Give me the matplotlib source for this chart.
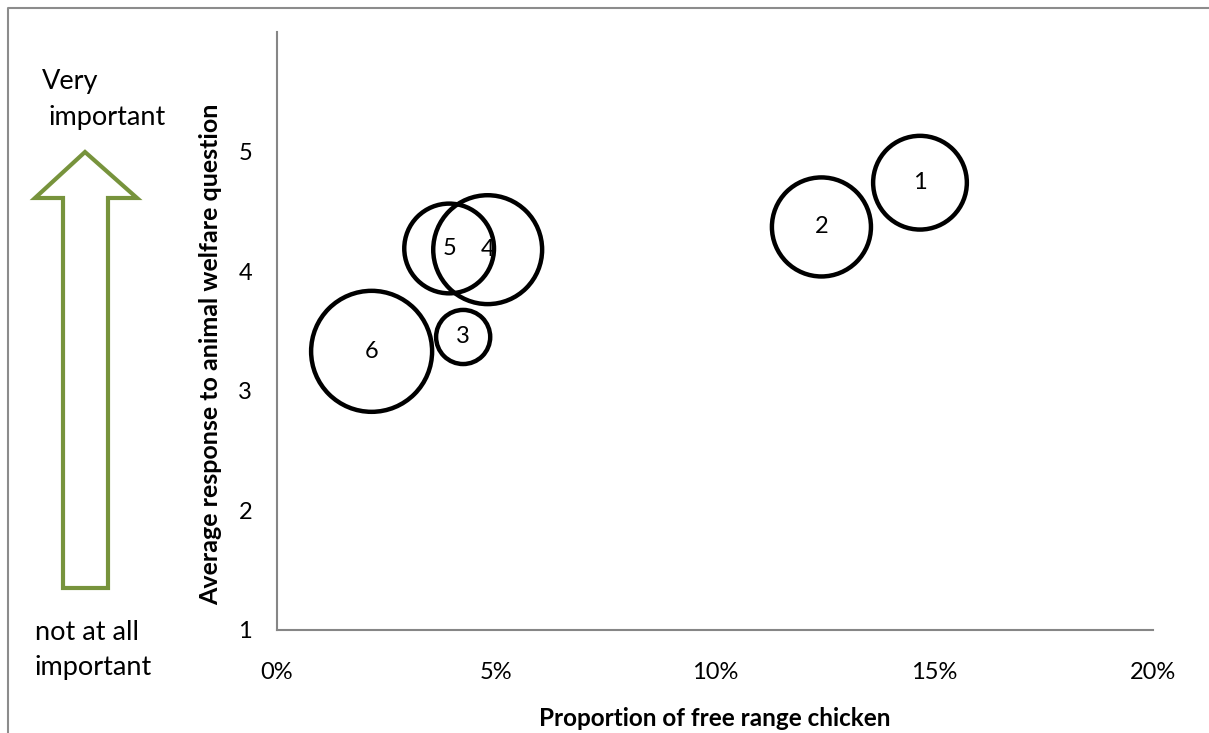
import numpy as np
import matplotlib
matplotlib.use("Agg")
import matplotlib.pyplot as plt
from matplotlib.patches import Polygon
from matplotlib.lines import Line2D
from matplotlib.ticker import FuncFormatter

plt.rcParams['font.family'] = ['Lato', 'DejaVu Sans']

# survey groups: share of free range chicken vs. stated welfare importance
group_labels = ["1", "2", "3", "4", "5", "6"]
free_range_pct = [14.68, 12.43, 4.25, 4.81, 3.93, 2.16]
welfare_score = [4.74, 4.37, 3.45, 4.18, 4.19, 3.33]
bubble_area = [0.60, 0.67, 0.20, 0.81, 0.55, 1.00]

x_ticks = [0, 5, 10, 15, 20]
y_ticks = [1, 2, 3, 4, 5]

W, H = 1209, 733
fig = plt.figure(figsize=(W / 100, H / 100), dpi=100)
ax = fig.add_axes([277 / W, 1 - 630 / H, (1153 - 277) / W, (630 - 32) / H])

# largest bubble ~121 px across
max_diam_pt = 121 * 72 / 100
sizes = [a * max_diam_pt ** 2 for a in bubble_area]
ax.scatter(free_range_pct, welfare_score, s=sizes, facecolors="none",
           edgecolors="black", linewidths=3.2, zorder=3)
for lab, x, y in zip(group_labels, free_range_pct, welfare_score):
    ax.text(x, y, lab, ha="center", va="center", fontsize=17, zorder=4)

ax.set_xlim(0, 20)
ax.set_ylim(1, 6)
ax.set_xticks(x_ticks)
ax.set_yticks(y_ticks)
ax.xaxis.set_major_formatter(FuncFormatter(lambda v, p: f"{v:.0f}%"))
ax.tick_params(axis="x", length=0, pad=23, labelsize=17)
ax.tick_params(axis="y", length=0, pad=18, labelsize=17)
for side in ["top", "right"]:
    ax.spines[side].set_visible(False)
for side in ["left", "bottom"]:
    ax.spines[side].set_color("#868686")
    ax.spines[side].set_linewidth(1.5)

fig.text(715 / W, 1 - 718 / H, "Proportion of free range chicken",
         ha="center", va="center", fontsize=17.5, fontweight="bold")
fig.text(211 / W, 1 - 354 / H, "Average response to animal welfare question",
         ha="center", va="center", rotation=90, fontsize=18, fontweight="bold")

# hollow arrow on the left, pointing up
arrow_px = [(85, 152), (137, 198), (108, 198), (108, 588), (63, 588),
            (63, 198), (35, 198)]
arrow = Polygon([(x / W, 1 - y / H) for x, y in arrow_px], closed=True,
                transform=fig.transFigure, facecolor="white",
                edgecolor="#77933C", linewidth=3.0, joinstyle="miter")
fig.add_artist(arrow)

fig.text(42 / W, 1 - 82 / H, "Very", ha="left", va="center", fontsize=19.5)
fig.text(48 / W, 1 - 117 / H, "important", ha="left", va="center", fontsize=19.5)
fig.text(35 / W, 1 - 632 / H, "not at all", ha="left", va="center", fontsize=19.5)
fig.text(35 / W, 1 - 667 / H, "important", ha="left", va="center", fontsize=19.5)

# outer frame, only top and left edges visible
fig.add_artist(Line2D([8 / W, 8 / W, 1], [0, 1 - 8 / H, 1 - 8 / H],
                      transform=fig.transFigure, color="#8c8c8c", linewidth=1.5))

fig.savefig("out.png", dpi=100)
